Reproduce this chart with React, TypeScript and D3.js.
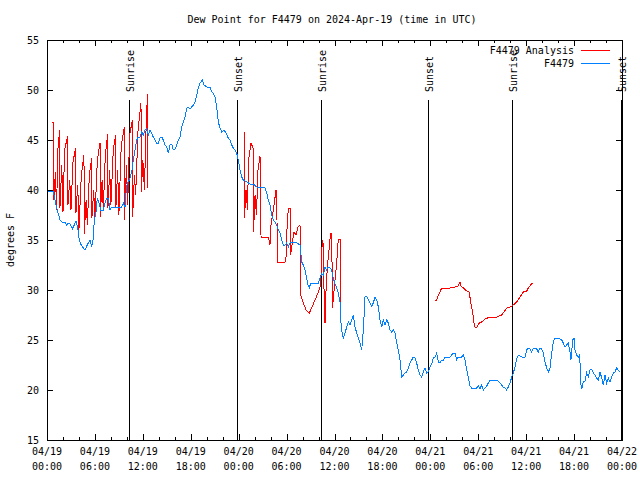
import React from "react";
import * as d3 from "d3";

const TITLE = "Dew Point for F4479 on 2024-Apr-19 (time in UTC)";
const Y_LABEL = "degrees F";
const SERIES_NAMES = ["F4479 Analysis", "F4479"];
const SERIES_COLORS = ["#ff0000", "#0080ff"];
const Y_TICKS = [15, 20, 25, 30, 35, 40, 45, 50, 55];

// hours since 2024-04-19 00:00 UTC
const SUN_HOURS = [10.31, 23.83, 34.35, 47.75, 58.27, 71.88];
const SUN_LABELS = ["Sunrise", "Sunset", "Sunrise", "Sunset", "Sunrise", "Sunset"];

// Observed dew point (F4479)
const obsHours = [
  0.04, 0.79, 1.0, 1.21, 1.63, 1.97, 2.25, 2.47, 2.67, 2.88, 3.17, 3.42, 3.63, 3.84, 4.04, 4.22, 4.55, 4.76, 4.97, 5.17,
  5.38, 5.6, 5.8, 5.92, 6.14, 6.3, 6.51, 6.72, 7.05, 7.26, 7.48, 7.68, 7.89, 8.1, 8.52, 9.35, 9.55, 9.77, 9.89, 10.06,
  10.31, 10.61, 10.81, 11.02, 11.23, 11.43, 11.65, 11.86, 12.06, 12.27, 12.48, 12.68, 12.9, 13.31, 13.74, 13.94, 14.15, 14.36, 14.56, 14.78,
  14.99, 15.19, 15.4, 15.61, 15.82, 16.03, 16.24, 16.44, 16.65, 16.87, 17.07, 17.28, 17.49, 17.69, 17.91, 18.12, 18.32, 18.53, 18.75, 18.95,
  19.16, 19.45, 19.66, 20.0, 20.41, 20.62, 20.82, 21.04, 21.25, 21.45, 21.66, 21.88, 22.16, 22.41, 22.7, 22.92, 23.13, 23.33, 23.54, 23.75,
  23.95, 24.17, 24.38, 24.58, 25.01, 25.42, 25.83, 26.26, 26.88, 27.3, 27.51, 27.71, 27.92, 28.14, 28.34, 28.55, 28.76, 28.96, 29.18, 29.39,
  29.59, 29.8, 30.02, 30.22, 30.43, 30.84, 31.27, 31.68, 31.89, 32.09, 32.31, 32.52, 32.72, 32.85, 33.02, 33.97, 34.19, 34.4, 34.6, 34.81,
  35.02, 35.22, 35.44, 35.65, 35.85, 36.06, 36.28, 36.48, 36.69, 36.81, 36.98, 37.1, 37.32, 37.53, 37.73, 37.94, 38.16, 38.35, 38.57, 38.78,
  38.98, 39.19, 39.41, 39.61, 39.82, 40.03, 40.23, 40.45, 40.66, 40.86, 41.07, 41.29, 41.49, 41.7, 41.91, 42.11, 42.32, 42.54, 42.74, 42.95,
  43.16, 43.36, 43.58, 43.79, 43.99, 44.2, 44.42, 44.62, 44.83, 45.04, 45.24, 45.45, 45.67, 45.87, 46.08, 46.29, 46.49, 46.71, 46.92, 47.12,
  47.33, 47.55, 47.75, 47.96, 48.17, 48.37, 48.59, 48.8, 49.0, 49.21, 49.42, 49.63, 49.84, 50.46, 50.68, 50.88, 51.09, 51.3, 51.5, 51.72,
  51.93, 52.13, 52.34, 52.56, 52.76, 52.97, 53.18, 53.38, 53.59, 53.81, 54.01, 54.22, 54.43, 54.63, 54.84, 55.06, 55.26, 55.47, 56.31, 56.72,
  56.93, 57.13, 57.35, 57.56, 57.76, 57.98, 58.19, 58.39, 58.6, 58.82, 59.02, 59.23, 59.44, 59.85, 60.07, 60.27, 60.48, 60.69, 60.89, 61.32,
  61.52, 61.73, 61.94, 62.15, 62.36, 62.57, 62.78, 62.99, 63.2, 63.4, 63.61, 64.03, 64.45, 64.65, 64.86, 65.07, 65.28, 65.49, 65.61, 65.83,
  65.99, 66.12, 66.33, 66.53, 66.66, 66.74, 66.83, 66.95, 67.16, 67.37, 67.58, 67.78, 67.99, 68.21, 68.41, 68.62, 68.83, 69.03, 69.25, 69.46,
  69.66, 69.87, 70.08, 70.28, 70.5, 70.71, 70.91, 71.12, 71.33, 71.53, 71.74,
];
const obsValues = [
  39.9, 39.9, 39.0, 38.2, 37.0, 36.7, 36.8, 36.5, 36.7, 36.6, 36.1, 36.5, 36.9, 36.3, 35.0, 34.6, 34.2, 34.0, 34.4, 34.7,
  35.0, 34.3, 35.2, 37.0, 37.8, 39.2, 38.7, 38.0, 38.0, 38.7, 39.2, 39.2, 38.0, 38.3, 38.3, 38.3, 38.7, 38.3, 39.7, 40.7,
  41.0, 41.8, 43.0, 44.0, 45.0, 45.3, 45.3, 45.8, 45.5, 46.0, 46.1, 45.5, 46.0, 45.3, 44.7, 44.7, 45.2, 45.3, 45.0, 44.5,
  44.3, 43.7, 44.5, 44.6, 44.0, 44.1, 44.5, 45.0, 45.3, 46.3, 46.8, 47.3, 48.2, 48.3, 48.1, 48.3, 48.5, 48.8, 49.5, 50.2,
  50.7, 51.0, 50.5, 50.3, 50.3, 49.8, 49.7, 49.3, 48.3, 46.8, 46.2, 45.8, 46.0, 45.7, 45.2, 45.0, 44.5, 44.2, 44.0, 43.7,
  43.0, 42.0, 41.3, 41.0, 40.8, 40.6, 40.6, 40.3, 40.3, 40.2, 39.7, 39.0, 38.5, 37.5, 37.0, 36.8, 36.5, 36.0, 35.7, 35.0,
  34.5, 34.5, 34.7, 34.3, 34.7, 34.8, 34.7, 34.5, 32.8, 32.5, 32.0, 31.2, 30.4, 30.2, 30.7, 30.7, 31.2, 31.6, 31.5, 32.3,
  32.0, 32.3, 32.2, 32.0, 31.2, 30.6, 30.2, 29.7, 28.8, 26.7, 25.5, 25.2, 25.7, 26.3, 26.8, 26.5, 27.0, 27.5, 26.3, 25.7,
  25.2, 24.7, 24.0, 26.0, 29.3, 29.4, 29.0, 28.7, 28.4, 28.7, 29.3, 29.0, 28.3, 27.0, 26.3, 27.0, 26.5, 27.0, 26.7, 26.0,
  25.8, 26.0, 25.7, 24.7, 24.0, 23.0, 21.3, 21.5, 21.7, 21.8, 22.2, 22.7, 23.0, 23.3, 23.2, 22.7, 22.0, 21.5, 21.3, 21.8,
  22.2, 21.7, 21.8, 22.3, 22.6, 23.2, 23.3, 23.7, 22.8, 22.7, 23.0, 23.0, 23.3, 23.3, 23.5, 23.7, 23.7, 23.0, 23.3, 23.2,
  23.3, 23.5, 23.0, 22.0, 21.2, 20.4, 20.2, 20.2, 20.1, 20.2, 20.4, 20.1, 20.5, 20.0, 20.2, 20.4, 20.7, 21.0, 21.0, 20.7,
  20.5, 20.3, 20.2, 20.0, 20.3, 20.7, 21.3, 21.7, 22.3, 23.1, 23.5, 23.4, 23.3, 23.3, 24.0, 24.2, 24.1, 23.8, 24.2, 24.1,
  23.8, 24.2, 24.1, 23.7, 22.8, 22.2, 21.8, 22.2, 23.7, 24.8, 25.2, 25.2, 25.0, 24.7, 24.3, 24.5, 24.7, 23.8, 23.0, 25.0,
  25.2, 24.0, 23.5, 23.3, 23.5, 22.7, 20.7, 20.1, 20.8, 20.9, 21.7, 21.3, 22.0, 22.1, 21.7, 21.5, 21.2, 21.0, 21.8, 21.2,
  20.5, 21.5, 20.7, 21.2, 20.8, 21.3, 21.7, 21.8, 22.2, 22.0, 21.8,
];

// Analysis dew point (F4479 Analysis); null marks a gap in the line
const anaHours = [
  0.58, 0.83, 0.85, 1.05, 1.2, 1.35, 1.59, 1.62, 1.85, 2.0, 2.2, 2.59, 2.62, 2.85, 3.0, 3.25, 3.59, 3.62, 3.85, 4.0,
  4.3, 4.63, 4.66, 4.9, 5.05, 5.3, 5.59, 5.62, 5.85, 6.0, 6.3, 6.64, 6.67, 6.9, 7.05, 7.3, 7.6, 7.63, 7.85, 8.0,
  8.3, 8.6, 8.63, 8.85, 9.0, 9.3, 9.68, 9.71, 9.95, 10.1, 10.35, 10.69, 10.72, 10.95, 11.1, 11.4, 11.77, 11.8, 12.0, 12.2,
  12.45, 12.6, 12.63,
  18.0,
  24.67, 24.73, 24.92, 25.11, 25.23, 25.55, 25.8, 25.86, 26.05, 26.23, 26.42, 26.67, 26.73, 26.8, 27.71, 27.92, 28.05, 28.34, 28.68, 28.8,
  28.84, 29.8, 29.93, 30.05, 30.22, 30.43, 30.49, 30.68, 30.93, 31.18, 31.43, 31.68, 31.77, 32.06, 32.43, 32.85, 33.18, 33.56, 33.93, 34.19,
  34.31, 34.47, 34.6, 34.69, 34.81, 34.94, 35.12, 35.31, 35.5, 35.65, 35.75, 36.0, 36.25, 36.48, 36.75, 36.81,
  42.0,
  48.58, 48.8, 49.0, 49.21, 49.42, 50.46, 51.09, 51.47, 51.72, 51.84, 52.13, 52.56, 52.88, 53.06, 53.31, 53.47, 53.59, 53.84, 54.13, 54.43,
  54.84, 55.47, 56.31, 56.94, 57.23, 57.56, 57.98, 58.39, 58.82, 59.23, 59.64, 60.07, 60.27, 60.48, 60.77,
];
const anaValues = [
  46.8, 46.8, 39.0, 41.8, 38.0, 44.0, 46.0, 38.2, 42.5, 37.8, 44.0, 45.4, 38.5, 41.0, 38.0, 42.8, 44.2, 37.7, 40.5, 36.0,
  41.5, 43.5, 35.6, 39.0, 36.5, 41.5, 43.2, 37.2, 40.0, 37.0, 43.0, 44.7, 37.3, 41.0, 38.0, 43.5, 45.6, 38.2, 42.0, 38.5,
  44.0, 45.5, 38.3, 42.0, 37.5, 44.5, 46.3, 37.0, 42.5, 38.5, 45.5, 47.0, 37.3, 41.5, 39.5, 46.0, 48.7, 39.8, 43.0, 40.0,
  47.5, 49.6, 40.2,
  null,
  45.8, 37.2, 40.0, 38.0, 43.0, 44.7, 44.2, 35.8, 39.5, 37.5, 42.0, 43.4, 41.0, 35.3, 35.3, 34.5, 36.5, 38.0, 40.0, 37.0,
  32.8, 32.8, 33.3, 36.0, 38.2, 38.2, 33.5, 34.5, 35.8, 35.5, 36.3, 36.5, 29.5, 28.8, 28.0, 27.7, 28.3, 29.0, 29.7, 30.3,
  31.5, 35.0, 34.5, 30.0, 26.7, 30.0, 32.5, 34.0, 35.7, 35.7, 28.2, 30.5, 32.5, 35.1, 35.1, 28.5,
  null,
  29.0, 29.0, 29.5, 29.8, 30.2, 30.2, 30.3, 30.4, 30.8, 30.4, 30.2, 29.9, 29.8, 28.7, 27.7, 26.7, 26.3, 26.3, 26.7, 26.8,
  27.1, 27.3, 27.3, 27.5, 27.8, 28.2, 28.3, 28.5, 28.8, 29.3, 29.8, 29.9, 30.2, 30.4, 30.7,
];

const BASE = Date.UTC(2024, 3, 19);
const toDate = (h: number) => new Date(BASE + h * 3600e3);

const FONT = "'DejaVu Sans Mono', 'Liberation Mono', monospace";

export default function App() {
  const W = 640, H = 480;
  const left = 47, right = 622, top = 40, bottom = 440;
  const x = d3.scaleUtc().domain([toDate(0), toDate(72)]).range([left, right]);
  const y = d3.scaleLinear().domain([15, 55]).range([bottom, top]);

  const obs = obsHours.map((h, i) => ({ t: toDate(h), v: obsValues[i] as number | null }));
  const ana = anaHours.map((h, i) => ({ t: toDate(h), v: anaValues[i] as number | null }));
  const line = d3
    .line<{ t: Date; v: number | null }>()
    .defined((d) => d.v !== null)
    .x((d) => x(d.t))
    .y((d) => y(d.v as number));

  const majorTicks = x.ticks(d3.utcHour.every(6) as any);
  const minorTicks = x.ticks(d3.utcHour.every(2) as any).filter((t) => t.getUTCHours() % 6 !== 0);
  const fmtDate = d3.utcFormat("%m/%d");
  const fmtTime = d3.utcFormat("%H:%M");

  return (
    <svg width={W} height={H} style={{ display: "block", position: "absolute", left: 0, top: 0, background: "#fff" }}>
      <rect x={0} y={0} width={W} height={H} fill="#fff" />
      <text x={332} y={23} textAnchor="middle" fontFamily={FONT} fontSize={10} fill="#000">
        {TITLE}
      </text>

      {/* y ticks */}
      {Y_TICKS.map((v) => (
        <g key={"y" + v}>
          <line x1={left} x2={left + 6} y1={Math.round(y(v)) + 0.5} y2={Math.round(y(v)) + 0.5} stroke="#000" />
          <line x1={right - 6} x2={right} y1={Math.round(y(v)) + 0.5} y2={Math.round(y(v)) + 0.5} stroke="#000" />
          <text x={39} y={y(v) + 4} textAnchor="end" fontFamily={FONT} fontSize={10} fill="#000">
            {v}
          </text>
        </g>
      ))}

      {/* x ticks */}
      {majorTicks.map((t, i) => {
        const px = Math.round(x(t)) + 0.5;
        return (
          <g key={"mx" + i}>
            <line x1={px} x2={px} y1={bottom} y2={bottom - 6} stroke="#000" />
            <line x1={px} x2={px} y1={top} y2={top + 6} stroke="#000" />
            <text x={x(t)} y={455} textAnchor="middle" fontFamily={FONT} fontSize={10} fill="#000">
              {fmtDate(t)}
            </text>
            <text x={x(t)} y={470} textAnchor="middle" fontFamily={FONT} fontSize={10} fill="#000">
              {fmtTime(t)}
            </text>
          </g>
        );
      })}
      {minorTicks.map((t, i) => {
        const px = Math.round(x(t)) + 0.5;
        return (
          <g key={"nx" + i}>
            <line x1={px} x2={px} y1={bottom} y2={bottom - 3} stroke="#000" />
            <line x1={px} x2={px} y1={top} y2={top + 3} stroke="#000" />
          </g>
        );
      })}

      <text
        transform={`translate(14,${(top + bottom) / 2}) rotate(-90)`}
        textAnchor="middle"
        fontFamily={FONT}
        fontSize={10}
        fill="#000"
      >
        {Y_LABEL}
      </text>

      {/* sunrise / sunset */}
      {SUN_HOURS.map((h, i) => {
        const px = Math.round(x(toDate(h))) + 0.5;
        return (
          <g key={"s" + i}>
            <line x1={px} x2={px} y1={100} y2={bottom} stroke="#000" />
            <text
              transform={`translate(${px + 4},92) rotate(-90)`}
              textAnchor="start"
              fontFamily={FONT}
              fontSize={10}
              fill="#000"
            >
              {SUN_LABELS[i]}
            </text>
          </g>
        );
      })}

      <path d={line(ana) || ""} fill="none" stroke={SERIES_COLORS[0]} strokeWidth={1} shapeRendering="crispEdges" />
      <path d={line(obs) || ""} fill="none" stroke={SERIES_COLORS[1]} strokeWidth={1} shapeRendering="crispEdges" />

      {/* legend */}
      {SERIES_NAMES.map((n, i) => (
        <g key={"l" + i}>
          <text x={574} y={54 + i * 13} textAnchor="end" fontFamily={FONT} fontSize={10} fill="#000">
            {n}
          </text>
          <line x1={581} x2={610} y1={50.5 + i * 13} y2={50.5 + i * 13} stroke={SERIES_COLORS[i]} />
        </g>
      ))}

      <rect x={left + 0.5} y={top + 0.5} width={right - left} height={bottom - top} fill="none" stroke="#000" />
    </svg>
  );
}
